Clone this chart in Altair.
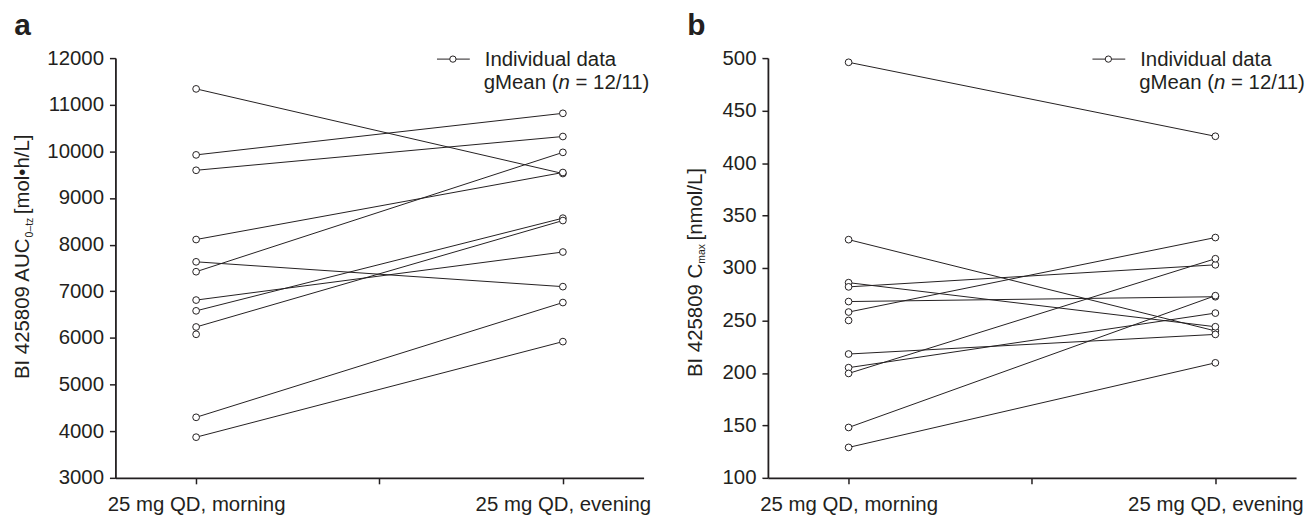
import altair as alt
import pandas as pd

INK = "#231f20"
FONT = "Liberation Sans"
FS = 20.5
SUB = 10.5

# ---------------- data ----------------
visit_labels = ["25 mg QD, morning", "25 mg QD, evening"]
visit_codes = [1, 2]
x_tick_values = [1, 1.5, 2]
x_domain = [0.78, 2.22]
subjects = [1, 2, 3, 4, 5, 6, 7, 8, 9, 10, 11, 12]

auc_morning = [11340, 9925, 9595, 8110, 7632, 7420, 6812, 6581, 6235, 6078, 4298, 3872]
auc_evening = [9525, 10816, 10319, 9547, 7100, 9979, 7842, 8568, 8517, None, 6759, 5921]
auc_ticks = [3000, 4000, 5000, 6000, 7000, 8000, 9000, 10000, 11000, 12000]
auc_domain = [3000, 12000]

cmax_morning = [496, 327, 286, 282, 268, 258, 250, 218, 205, 199.5, 148, 129]
cmax_evening = [425.5, 240, 244, 303, 272.6, 329, None, 236.7, 257, 308.8, 273.6, 209.6]
cmax_ticks = [100, 150, 200, 250, 300, 350, 400, 450, 500]
cmax_domain = [100, 500]

legend_line = "Individual data"
legend_mean = ["gMean (", "n", "= 12/11)"]

# Arial / Liberation Sans advance widths (em)
W = {' ': 0.278, '0': 0.556, '1': 0.556, '2': 0.556, '3': 0.556, '4': 0.556,
     '5': 0.556, '6': 0.556, '7': 0.556, '8': 0.556, '9': 0.556, 'B': 0.667, 'I': 0.278,
     'A': 0.667, 'U': 0.722, 'C': 0.722, '[': 0.278, ']': 0.278, 'm': 0.833, 'o': 0.556,
     'l': 0.222, '\u2022': 0.35, 'h': 0.556, '/': 0.278, 'L': 0.556, 'n': 0.556, 'g': 0.556,
     'M': 0.833, 'e': 0.556, 'a': 0.556, '(': 0.333, ')': 0.333, '=': 0.584, 't': 0.278,
     'z': 0.5, '\u2013': 0.556, 'x': 0.5}


def tw(s, size):
    return sum(W.get(c, 0.556) for c in s) * size


def txt(s, x, y, size=FS, weight="normal", style="normal", angle=0, align="left"):
    return alt.Chart(pd.DataFrame({"s": [s]})).mark_text(
        align=align, baseline="alphabetic", fontSize=size, font=FONT,
        fontWeight=weight, fontStyle=style, angle=angle, color=INK
    ).encode(text="s:N", x=alt.value(x), y=alt.value(y))


def panel(morning, evening, ticks, domain, letter, letter_x, title_parts, title_x, title_bottom, legend_x):
    rows = []
    for s, m, e in zip(subjects, morning, evening):
        rows.append({"subject": s, "visit": visit_codes[0], "value": m})
        if e is not None:
            rows.append({"subject": s, "visit": visit_codes[1], "value": e})
    df = pd.DataFrame(rows)

    label_expr = " : ".join(
        f"datum.value == {c} ? '{l}'" for c, l in zip(visit_codes, visit_labels)
    ) + " : ''"

    x = alt.X("visit:Q", scale=alt.Scale(domain=x_domain, nice=False, zero=False),
              axis=alt.Axis(values=x_tick_values, labelExpr=label_expr, title=None,
                            grid=False, tickSize=6, labelPadding=11, labelFlush=False,
                            labelOverlap=False))
    y = alt.Y("value:Q", scale=alt.Scale(domain=domain, nice=False, zero=False),
              axis=alt.Axis(values=ticks, format="d", title=None, grid=False,
                            tickSize=6, labelPadding=6, labelOverlap=False))

    base = alt.Chart(df)
    lines = base.mark_line(color=INK, strokeWidth=1).encode(x=x, y=y, detail="subject:N")
    pts = base.mark_point(shape="circle", size=46, fill="white", fillOpacity=1,
                          stroke=INK, strokeWidth=1, opacity=1).encode(x=x, y=y)

    layers = [lines, pts]
    # panel letter
    layers.append(txt(letter, letter_x, -23, size=30, weight="bold"))
    # legend
    one = pd.DataFrame({"k": [0]})
    layers.append(alt.Chart(one).mark_rule(color=INK, strokeWidth=1).encode(
        x=alt.value(legend_x), x2=alt.value(legend_x + 33), y=alt.value(1)))
    layers.append(alt.Chart(one).mark_point(shape="circle", size=40, fill="white",
                                            fillOpacity=1, stroke=INK, strokeWidth=1,
                                            opacity=1).encode(
        x=alt.value(legend_x + 16), y=alt.value(1)))
    tx = legend_x + 48
    layers.append(txt(legend_line, tx, 8))
    cx = tx - 1
    for i, part in enumerate(legend_mean):
        if i == 2:
            cx += tw(" ", FS)
        layers.append(txt(part, cx, 31, style="italic" if i == 1 else "normal"))
        cx += tw(part, FS)
    # rotated y-axis title with subscript
    main, sub, unit = title_parts
    yy = title_bottom
    layers.append(txt(main, title_x, yy, angle=270))
    yy -= tw(main, FS)
    layers.append(txt(sub, title_x + 3.5, yy, size=SUB, angle=270))
    yy -= tw(sub, SUB) + 3.5
    layers.append(txt(unit, title_x, yy, angle=270))

    return alt.layer(*layers).properties(width=531, height=422)


pa = panel(auc_morning, auc_evening, auc_ticks, auc_domain, "a", -101.7,
           ("BI 425809 AUC", "0\u2013tz", "[mol\u2022h/L]"), -86.7, 322.7, 323.3)
pb = panel(cmax_morning, cmax_evening, cmax_ticks, cmax_domain, "b", -81,
           ("BI 425809 C", "max", "[nmol/L]"), -66.7, 320.7, 326.3)

chart = alt.hconcat(pa, pb, spacing=125, bounds="flush").properties(
    padding={"left": 5, "top": 2, "right": 2, "bottom": 2}
).configure_view(stroke=None).configure_axis(
    domainColor=INK, domainWidth=1.8, tickColor=INK, tickWidth=1.5,
    labelColor=INK, labelFont=FONT, labelFontSize=FS
)

chart.save("out.html", embed_options={"renderer": "svg", "actions": False})
